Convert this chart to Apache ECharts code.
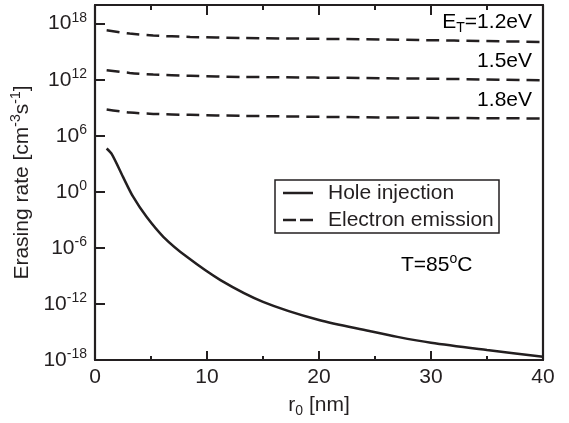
<!DOCTYPE html>
<html>
<head>
<meta charset="utf-8">
<script src="https://cdn.jsdelivr.net/npm/echarts@6/dist/echarts.min.js"></script>
<style>
  html, body { margin: 0; padding: 0; background: #fff; }
  #chart { width: 569px; height: 423px; }
</style>
</head>
<body>
<div id="chart"></div>
<script>
// Trap-radius axis (nm)
const holeRadius = [1.04, 1.5, 2.5, 3.4, 4.6, 6.1, 8.2, 11.2, 15, 20, 24.5, 27, 30, 35, 40];
// Hole injection erasing rate (cm^-3 s^-1)
const holeRate = [4.4e4, 1.07e4, 40, 0.30, 2.1e-3, 1.55e-5, 1.1e-7, 3.6e-10, 1.7e-12,
                  1.9e-14, 1.26e-15, 3.0e-16, 7.1e-17, 1.17e-17, 2.2e-18];

// Electron emission rates for three trap energies
const emitRadius = [1.04, 3.1, 5.2, 8.5, 13.2, 26, 40];
const emit12 = [1.95e17, 8.7e16, 5.4e16, 3.8e16, 2.95e16, 2.0e16, 1.1e16];
const emit15 = [1.05e13, 5.4e12, 3.6e12, 2.6e12, 2.0e12, 1.45e12, 8.9e11];
const emit18 = [6.5e8, 3.1e8, 2.2e8, 1.74e8, 1.35e8, 9.1e7, 7.1e7];

const xTicks = [0, 10, 20, 30, 40];
const xMinorTicks = [5, 15, 25, 35];
const yExpTicks = [-18, -12, -6, 0, 6, 12, 18];
const yBottom = 1e-18;
const yTop = 1e20;
const legendNames = ['Hole injection', 'Electron emission'];

const ink = '#231f20';
const font = "'Liberation Sans', Arial, Helvetica, sans-serif";

const pairs = (xs, ys) => xs.map((x, i) => [x, ys[i]]);

const richBase = {
  b: { fontSize: 21, lineHeight: 26, color: ink, fontFamily: font },
  sup: { fontSize: 14, lineHeight: 14, verticalAlign: 'top', color: ink, fontFamily: font },
  sub: { fontSize: 14, lineHeight: 12, verticalAlign: 'bottom', color: ink, fontFamily: font }
};

const chart = echarts.init(document.getElementById('chart'), null, { renderer: 'canvas' });

const dashStyle = { color: ink, width: 2.5, type: [13, 7] };
const frameLine = { color: ink, width: 2.2 };
const tickLine = { color: ink, width: 2 };

// Inward tick marks along the top frame: reach in decades below the top edge
const topMajorReach = yTop / Math.pow(10, 1.07);
const topMinorReach = yTop / Math.pow(10, 0.54);
const topTickSegments = xTicks.map(v => [{ coord: [v, yTop] }, { coord: [v, topMajorReach] }])
  .concat(xMinorTicks.map(v => [{ coord: [v, yTop] }, { coord: [v, topMinorReach] }]));

// Boxed key in the middle-right of the plot
const keyBox = { x: 275, y: 180, w: 224, h: 53 };
const keyGraphics = [
  { type: 'rect', shape: { x: keyBox.x, y: keyBox.y, width: keyBox.w, height: keyBox.h },
    style: { fill: '#fff', stroke: ink, lineWidth: 1.5 }, z: 10 },
  { type: 'line', shape: { x1: 283, y1: 193, x2: 313, y2: 193 },
    style: { stroke: ink, lineWidth: 2.5 }, z: 11 },
  { type: 'line', shape: { x1: 283, y1: 220, x2: 296, y2: 220 },
    style: { stroke: ink, lineWidth: 2.5 }, z: 11 },
  { type: 'line', shape: { x1: 300, y1: 220, x2: 313, y2: 220 },
    style: { stroke: ink, lineWidth: 2.5 }, z: 11 },
  { type: 'text', x: 328, y: 193, z: 11,
    style: { text: legendNames[0], fontSize: 21, fontFamily: font, fill: ink, verticalAlign: 'middle' } },
  { type: 'text', x: 328, y: 220, z: 11,
    style: { text: legendNames[1], fontSize: 21, fontFamily: font, fill: ink, verticalAlign: 'middle' } }
];

const textGraphics = [{
  type: 'text', x: 532, y: 22,
  style: { text: '{b|E}{sub|T}{b|=1.2eV}', align: 'right', verticalAlign: 'middle', rich: richBase }
}, {
  type: 'text', x: 532, y: 61,
  style: { text: '{b|1.5eV}', align: 'right', verticalAlign: 'middle', rich: richBase }
}, {
  type: 'text', x: 532, y: 100,
  style: { text: '{b|1.8eV}', align: 'right', verticalAlign: 'middle', rich: richBase }
}, {
  type: 'text', x: 401, y: 265,
  style: { text: '{b|T=85}{sup|o}{b|C}', align: 'left', verticalAlign: 'middle', rich: richBase }
}];

// Both x axes span the same 0-40 nm range; the emission curves sit on the top one
const xShared = { type: 'value', min: 0, max: 40, interval: 10, splitLine: { show: false } };

chart.setOption({
  animation: false,
  backgroundColor: '#fff',
  grid: { left: 95, right: 26, top: 5, bottom: 63, containLabel: false, outerBoundsMode: 'none' },
  xAxis: [Object.assign({}, xShared, {
    position: 'bottom',
    axisLine: { show: true, onZero: false, lineStyle: frameLine },
    axisTick: { show: true, inside: true, length: 9, lineStyle: tickLine },
    minorTick: { show: true, splitNumber: 2, length: 4, lineStyle: tickLine },
    axisLabel: {
      margin: 7, color: ink, fontSize: 21, fontFamily: font,
      formatter: v => xTicks.includes(v) ? String(v) : ''
    },
    name: '{b|r}{sub|0}{b| [nm]}', nameLocation: 'middle', nameGap: 32,
    nameTextStyle: { rich: richBase }
  }), Object.assign({}, xShared, {
    position: 'top',
    axisLine: { show: true, onZero: false, lineStyle: frameLine },
    axisTick: { show: false },
    axisLabel: { show: false }
  })],
  yAxis: [{
    type: 'log', logBase: 10, min: yBottom, max: yTop, interval: 6, position: 'left',
    axisLine: { show: true, onZero: false, lineStyle: frameLine },
    axisTick: { show: true, inside: true, length: 10, lineStyle: tickLine },
    minorTick: { show: false },
    splitLine: { show: false },
    axisLabel: {
      margin: 8, align: 'right',
      formatter: v => {
        const e = Math.round(Math.log10(v));
        return yExpTicks.includes(e) ? '{b|10}{sup|' + e + '}' : '';
      },
      rich: richBase
    },
    name: '{b|Erasing rate [cm}{sup|-3}{b|s}{sup|-1}{b|]}', nameLocation: 'middle', nameGap: 50,
    nameRotate: 90,
    nameTextStyle: { rich: richBase }
  }, {
    type: 'log', logBase: 10, min: yBottom, max: yTop, position: 'right',
    axisLine: { show: true, onZero: false, lineStyle: frameLine },
    axisTick: { show: false }, axisLabel: { show: false }, splitLine: { show: false }
  }],
  series: [{
    name: legendNames[0], type: 'line', data: pairs(holeRadius, holeRate),
    xAxisIndex: 0, yAxisIndex: 0,
    symbol: 'none', smooth: 0.3,
    lineStyle: { color: ink, width: 2.5 }, itemStyle: { color: ink },
    markLine: {
      silent: true, animation: false, symbol: ['none', 'none'],
      label: { show: false }, emphasis: { disabled: true },
      lineStyle: { color: ink, width: 2, type: 'solid' },
      data: topTickSegments
    }
  }, {
    name: legendNames[1], type: 'line', data: pairs(emitRadius, emit12),
    xAxisIndex: 1, yAxisIndex: 0,
    symbol: 'none', smooth: 0.3,
    lineStyle: dashStyle, itemStyle: { color: ink }
  }, {
    name: legendNames[1], type: 'line', data: pairs(emitRadius, emit15),
    xAxisIndex: 1, yAxisIndex: 0,
    symbol: 'none', smooth: 0.3,
    lineStyle: dashStyle, itemStyle: { color: ink }
  }, {
    name: legendNames[1], type: 'line', data: pairs(emitRadius, emit18),
    xAxisIndex: 1, yAxisIndex: 0,
    symbol: 'none', smooth: 0.3,
    lineStyle: dashStyle, itemStyle: { color: ink }
  }],
  graphic: keyGraphics.concat(textGraphics)
});
</script>
</body>
</html>
